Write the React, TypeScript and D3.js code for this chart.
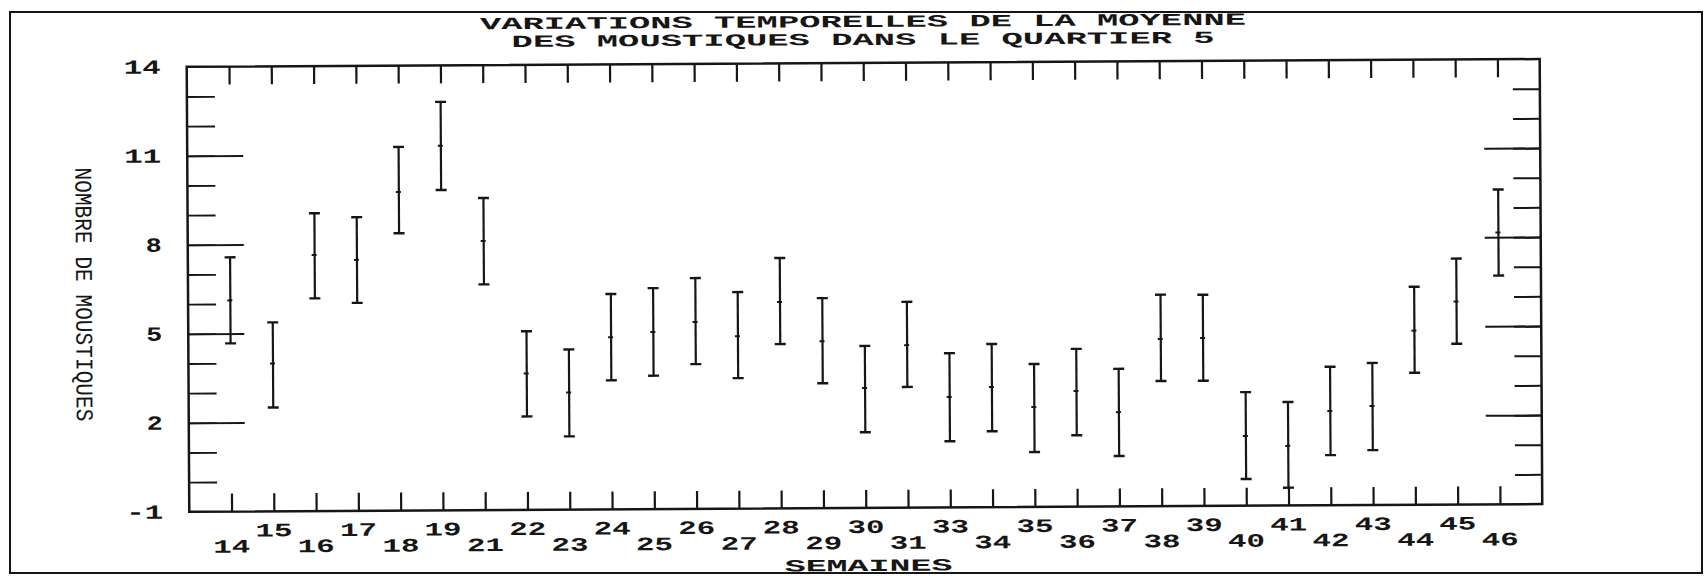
import React, { useEffect, useRef } from 'react';
import * as d3 from 'd3';

// weeks (semaines) on the x axis
const weeks = [14, 15, 16, 17, 18, 19, 21, 22, 23, 24, 25, 26, 27, 28, 29, 30, 31, 33, 34, 35, 36, 37, 38, 39, 40, 41, 42, 43, 44, 45, 46];

// mean number of mosquitoes and interval bounds
const means = [6.12, 3.98, 7.63, 7.46, 9.74, 11.29, 8.07, 3.6, 2.95, 4.8, 4.97, 5.3, 4.81, 5.96, 4.63, 3.04, 4.48, 2.72, 3.05, 2.37, 2.9, 2.18, 4.64, 4.66, 1.35, 1.01, 2.18, 2.34, 4.87, 5.84, 8.16];
const lows = [4.67, 2.5, 6.17, 6.01, 8.35, 9.8, 6.61, 2.15, 1.47, 3.35, 3.5, 3.88, 3.4, 4.54, 3.21, 1.55, 3.07, 1.23, 1.56, 0.85, 1.41, 0.7, 3.22, 3.22, -0.1, -0.4, 0.69, 0.85, 3.45, 4.42, 6.71];
const highs = [7.57, 5.37, 9.04, 8.9, 11.26, 12.77, 9.52, 5.02, 4.4, 6.26, 6.45, 6.78, 6.3, 7.44, 6.08, 4.46, 5.94, 4.2, 4.5, 3.82, 4.32, 3.64, 6.13, 6.12, 2.83, 2.49, 3.67, 3.79, 6.35, 7.29, 9.61];

const yLabels = [14, 11, 8, 5, 2, -1];
const yMajor = [11, 8, 5, 2];
const yMinor = d3.range(0, 14);

const titleLines = ['VARIATIONS TEMPORELLES DE LA MOYENNE', 'DES MOUSTIQUES DANS LE QUARTIER 5'];
const xTitle = 'SEMAINES';
const yTitle = 'NOMBRE DE MOUSTIQUES';

const FONT = '"Liberation Mono", "DejaVu Sans Mono", monospace';
const INK = '#161616';

const ErrorChart = () => {
  const svgRef = useRef<SVGSVGElement>(null);

  useEffect(() => {
    const svg = d3.select(svgRef.current);
    svg.selectAll('*').remove();

    const width = 1706;
    const height = 576;
    const margin = { top: 63, right: 165, bottom: 68, left: 188 };
    const innerRight = width - margin.right;
    const innerBottom = height - margin.bottom;

    const data = weeks.map((w, i) => ({ week: w, mean: means[i], low: lows[i], high: highs[i] }));

    const x = d3
      .scalePoint<number>()
      .domain(weeks)
      .range([margin.left, innerRight])
      .padding(1);

    const y = d3.scaleLinear().domain([-1, 14]).range([innerBottom, margin.top]);

    // outer frame of the figure
    svg
      .append('rect')
      .attr('x', 10)
      .attr('y', 12)
      .attr('width', width - 14)
      .attr('height', height - 15)
      .attr('fill', 'none')
      .attr('stroke', INK)
      .attr('stroke-width', 2);

    // the scan is a little skewed
    const g = svg.append('g').attr('transform', `rotate(-0.33, ${width / 2}, ${height / 2})`);

    // plot box
    g.append('rect')
      .attr('x', margin.left)
      .attr('y', margin.top)
      .attr('width', innerRight - margin.left)
      .attr('height', innerBottom - margin.top)
      .attr('fill', 'none')
      .attr('stroke', INK)
      .attr('stroke-width', 2.5);

    const styleAxis = (sel, w) => {
      sel.select('.domain').remove();
      sel.selectAll('line').attr('stroke', INK).attr('stroke-width', w);
      sel.selectAll('text').remove();
    };

    // category ticks top and bottom, pointing inward
    g.append('g')
      .attr('transform', `translate(0,${innerBottom})`)
      .call(d3.axisTop(x).tickSize(18).tickSizeOuter(0))
      .call(s => styleAxis(s, 2.2));

    g.append('g')
      .attr('transform', `translate(0,${margin.top})`)
      .call(d3.axisBottom(x).tickSize(18).tickSizeOuter(0))
      .call(s => styleAxis(s, 2.2));

    // y ticks left and right
    g.append('g')
      .attr('transform', `translate(${margin.left},0)`)
      .call(d3.axisRight(y).tickValues(yMinor).tickSize(28).tickSizeOuter(0))
      .call(s => styleAxis(s, 1.8));
    g.append('g')
      .attr('transform', `translate(${margin.left},0)`)
      .call(d3.axisRight(y).tickValues(yMajor).tickSize(56).tickSizeOuter(0))
      .call(s => styleAxis(s, 1.8));
    g.append('g')
      .attr('transform', `translate(${innerRight},0)`)
      .call(d3.axisLeft(y).tickValues(yMinor).tickSize(27).tickSizeOuter(0))
      .call(s => styleAxis(s, 2));
    g.append('g')
      .attr('transform', `translate(${innerRight},0)`)
      .call(d3.axisLeft(y).tickValues(yMajor).tickSize(56).tickSizeOuter(0))
      .call(s => styleAxis(s, 2));

    // y labels
    g.append('g')
      .selectAll('text')
      .data(yLabels)
      .enter()
      .append('text')
      .attr('x', margin.left - 26)
      .attr('y', d => y(d))
      .attr('dy', '0.33em')
      .attr('text-anchor', 'end')
      .attr('font-family', FONT)
      .attr('font-weight', 'bold')
      .attr('font-size', 20)
      .attr('fill', INK)
      .attr('textLength', d => (String(d).length > 1 ? 37 : 16))
      .attr('lengthAdjust', 'spacingAndGlyphs')
      .text(d => String(d));

    // x labels, staggered on two rows
    g.append('g')
      .selectAll('text')
      .data(weeks)
      .enter()
      .append('text')
      .attr('x', d => x(d))
      .attr('y', (d, i) => innerBottom + (i % 2 === 0 ? 41 : 25))
      .attr('text-anchor', 'middle')
      .attr('font-family', FONT)
      .attr('font-weight', 'bold')
      .attr('font-size', 19)
      .attr('fill', INK)
      .attr('textLength', 37)
      .attr('lengthAdjust', 'spacingAndGlyphs')
      .text(d => String(d));

    // error bars
    const bars = g.append('g').selectAll('.bar').data(data).enter().append('g').attr('class', 'bar');
    bars
      .append('line')
      .attr('x1', d => x(d.week))
      .attr('x2', d => x(d.week))
      .attr('y1', d => y(d.low))
      .attr('y2', d => y(d.high))
      .attr('stroke', INK)
      .attr('stroke-width', 2.2);
    const cap = 5.5;
    bars
      .append('line')
      .attr('x1', d => x(d.week) - cap)
      .attr('x2', d => x(d.week) + cap)
      .attr('y1', d => y(d.high))
      .attr('y2', d => y(d.high))
      .attr('stroke', INK)
      .attr('stroke-width', 2.4);
    bars
      .append('line')
      .attr('x1', d => x(d.week) - cap)
      .attr('x2', d => x(d.week) + cap)
      .attr('y1', d => y(d.low))
      .attr('y2', d => y(d.low))
      .attr('stroke', INK)
      .attr('stroke-width', 2.4);
    bars
      .append('line')
      .attr('x1', d => x(d.week) - 3)
      .attr('x2', d => x(d.week) + 2)
      .attr('y1', d => y(d.mean))
      .attr('y2', d => y(d.mean))
      .attr('stroke', INK)
      .attr('stroke-width', 2);

    // title
    g.append('g')
      .selectAll('text')
      .data(titleLines)
      .enter()
      .append('text')
      .attr('x', (margin.left + innerRight) / 2)
      .attr('y', (d, i) => 27 + i * 18)
      .attr('text-anchor', 'middle')
      .attr('font-family', FONT)
      .attr('font-weight', 'bold')
      .attr('font-size', 17)
      .attr('fill', INK)
      .attr('textLength', (d, i) => (i === 0 ? 766 : 703))
      .attr('lengthAdjust', 'spacingAndGlyphs')
      .text(d => d);

    // axis titles
    g.append('text')
      .attr('x', 867)
      .attr('y', 571)
      .attr('text-anchor', 'middle')
      .attr('font-family', FONT)
      .attr('font-weight', 'bold')
      .attr('font-size', 17)
      .attr('fill', INK)
      .attr('textLength', 168)
      .attr('lengthAdjust', 'spacingAndGlyphs')
      .text(xTitle);

    g.append('text')
      .attr('transform', `translate(76,290) rotate(90)`)
      .attr('text-anchor', 'middle')
      .attr('font-family', FONT)
      .attr('font-size', 24)
      .attr('fill', INK)
      .attr('textLength', 254)
      .attr('lengthAdjust', 'spacingAndGlyphs')
      .text(yTitle);
  }, []);

  return (
    <svg
      ref={svgRef}
      width="1706"
      height="576"
      style={{ position: 'absolute', left: 0, top: 0, background: '#fff' }}
    />
  );
};

export default function App() {
  return <ErrorChart />;
}
